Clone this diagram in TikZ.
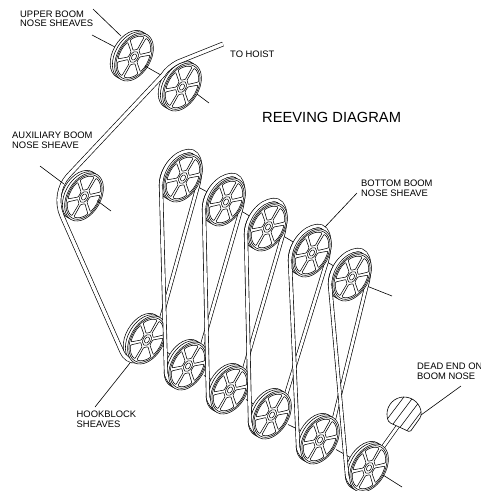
\documentclass[tikz,border=0pt]{standalone}
\usepackage{fontspec}
\setmainfont{Liberation Sans}
\newcommand\shvback[1]{%
  \begin{scope}[shift={(#1)},x=1pt,y=1pt]
  \foreach \d in {1,.5}{
    \begin{scope}[shift={(-4.4*\d,2.6*\d)},rotate=60,yscale=.64]
      \draw[shv,fill=white] (0,0) circle (26);
    \end{scope}}
  \end{scope}}
\newcommand\shvface[1]{%
  \begin{scope}[shift={(#1)},x=1pt,y=1pt,rotate=60,yscale=.64]
    \draw[shv,fill=white] (0,0) circle (26);
    \draw[shv] (0,0) circle (24.2);
    \foreach \a in {0,60,...,300}{
      \draw[shv,rounded corners=.8pt,fill=white] (\a+4.5:22.4) arc[start angle=\a+4.5,end angle=\a+55.5,radius=22.4]
        -- (\a+50:8) arc[start angle=\a+50,end angle=\a+10,radius=8] -- cycle;
    }
    \draw[shv] (0,0) circle (6);
    \draw[shv,fill=white] (0,0) circle (3.4);
  \end{scope}}
\newcommand\ropeover[2]{%
  \draw[rope] ([shift={(13,-17)}]#1) -- ([shift={(14,11)}]#2)
    .. controls ([shift={(19,-5)}]#2) and ([shift={(20,-28)}]#2) .. ([shift={(5,-27)}]#2)
    .. controls ([shift={(-8,-26)}]#2) and ([shift={(-22,-10)}]#2) .. ([shift={(-22,8)}]#2);}
\newcommand\ropedown[2]{%
  \draw[rope] ([shift={(-22,8)}]#1) -- ([shift={(-22,7)}]#2)
    .. controls ([shift={(-21,14)}]#2) and ([shift={(-15,22)}]#2) .. ([shift={(-2,20)}]#2);}
\newcommand\axle[2]{\draw[thinline] ([shift={(16,9.5)}]#1) -- (#2);}
\tikzset{
  shv/.style={line width=.55pt,black},
  rope/.style={double=white,double distance=2.8pt,line width=.65pt,black,line join=round},
  mainrope/.style={rope,double distance=3.4pt},
  thinline/.style={line width=.6pt,black},
  lab/.style={anchor=west,inner sep=0pt,align=left,font=\fontsize{9.4}{9.6}\selectfont}
}
\begin{document}
\begin{tikzpicture}[x=1pt,y=-1pt]
\useasboundingbox (0,0) rectangle (481,491);
\fill[white] (0,0) rectangle (481,491);
\coordinate (U) at (134,57);
\coordinate (S) at (182,87);
\coordinate (A) at (84,197);
\coordinate (T1) at (183,178);
\coordinate (T2) at (226,202);
\coordinate (T3) at (268,227);
\coordinate (T4) at (312,253);
\coordinate (T5) at (352,277);
\coordinate (H1) at (147,340);
\coordinate (H2) at (188,366);
\coordinate (H3) at (230,390);
\coordinate (H4) at (272,415);
\coordinate (H5) at (320,440);
\coordinate (H6) at (369,468);
% upper sheaves
\coordinate (ua) at (92,35);
\coordinate (ub) at (93,9);
\coordinate (uc) at (121,36);
\draw[thinline] (ua) -- (U);
\draw[thinline] (ub) -- (uc);
\shvback{U}\shvface{U}
\coordinate (s1) at (145,66);
\draw[thinline] (s1) -- (S);
\shvback{S}
\shvback{A}
\shvback{H1}
\coordinate (hoist) at (223,44);
\draw[mainrope] (hoist) -- (178,62) .. controls (172,65) and (166,70) .. (163,75) -- (68,176)
  .. controls (59,186) and (56,202) .. (62,216) -- (122,352) .. controls (124,357) and (130,362) .. (136,361);
\shvface{S}\shvface{A}
\coordinate (s2) at (209,103);
\draw[thinline] (197,94) -- (s2);
\coordinate (a2) at (111,211);
\draw[thinline] (97,200.5) -- (a2);
% loops
\shvback{T1}
\ropeover{H1}{T1}
\shvface{H1}\shvface{T1}
\axle{H1}{H2}\axle{T1}{T2}\shvback{H2}\ropedown{T1}{H2}
\shvback{T2}
\ropeover{H2}{T2}
\shvface{H2}\shvface{T2}
\axle{H2}{H3}\axle{T2}{T3}\shvback{H3}\ropedown{T2}{H3}
\shvback{T3}
\ropeover{H3}{T3}
\shvface{H3}\shvface{T3}
\axle{H3}{H4}\axle{T3}{T4}\shvback{H4}\ropedown{T3}{H4}
\shvback{T4}
\ropeover{H4}{T4}
\shvface{H4}\shvface{T4}
\axle{H4}{H5}\axle{T4}{T5}\shvback{H5}\ropedown{T4}{H5}
\shvback{T5}
\ropeover{H5}{T5}
\shvface{H5}\shvface{T5}
\axle{H5}{H6}\shvback{H6}\ropedown{T5}{H6}
\coordinate (t5e) at (392,296);
\draw[thinline] (368,286.5) -- (t5e);
% dead end
\coordinate (D) at (404,414);
\draw[rope] ([shift={(14,-21)}]H6) -- (398,426);
\shvface{H6}
\coordinate (h6e) at (402,487);
\draw[thinline] (383,475) -- (h6e);
\begin{scope}[shift={(D)},x=1pt,y=1pt]
  \draw[line width=.6pt,fill=white,rounded corners=1.5pt] (-10:17) arc[start angle=-10,end angle=210,radius=17] -- (6,-18) -- cycle;
  \clip (-10:17) arc[start angle=-10,end angle=210,radius=17] -- (6,-18) -- cycle;
  \foreach \k in {-2,...,2}{
    \draw[line width=.55pt] (\k*9.5-9,-20) -- ++(53:50);
  }
\end{scope}
% leaders
\coordinate (aa) at (40,166);
\coordinate (ab) at (64,184);
\draw[thinline] (aa) -- (ab);
\coordinate (ha) at (95,407);
\coordinate (hb) at (130,363);
\draw[thinline] (ha) -- (hb);
\coordinate (ba) at (357,193);
\coordinate (bb) at (325,227);
\draw[thinline] (ba) -- (bb);
\coordinate (da) at (461,386);
\coordinate (db) at (421,415);
\draw[thinline] (da) -- (db);
% labels
\node[lab] (l1) at (20,18.7) {UPPER BOOM\\NOSE SHEAVES};
\node[lab] (l2) at (230,54) {TO HOIST};
\node[lab] (l3) at (12,140.5) {AUXILIARY BOOM\\NOSE SHEAVE};
\node[lab] (l4) at (76.5,419) {HOOKBLOCK\\SHEAVES};
\node[lab] (l5) at (361,188) {BOTTOM BOOM\\NOSE SHEAVE};
\node[lab] (l6) at (417,371) {DEAD END ON\\BOOM NOSE};
\node[anchor=west,inner sep=0pt,font=\fontsize{14.7}{16}\selectfont] (l7) at (262,117) {REEVING DIAGRAM};
\end{tikzpicture}
\end{document}
